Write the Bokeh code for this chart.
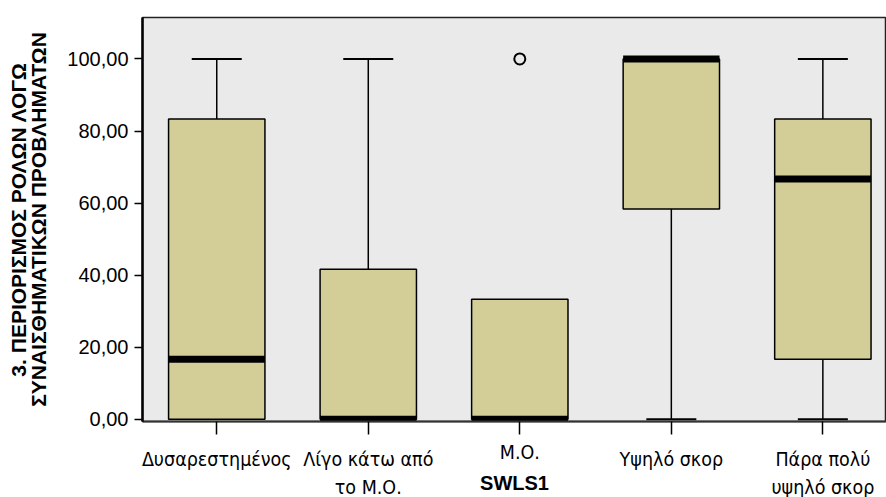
from bokeh.plotting import figure
from bokeh.models import FixedTicker, Range1d, ColumnDataSource, LinearAxis
from bokeh.embed import file_html
from bokeh.resources import INLINE

categories = ["Δυσαρεστημένος", "Λίγο κάτω από\nτο Μ.Ο.", "Μ.Ο.", "Υψηλό σκορ", "Πάρα πολύ\nυψηλό σκορ"]
positions = [1, 2, 3, 4, 5]
lower_whisker = [0.0, 0.0, 0.0, 0.0, 0.0]
q1 = [0.0, 0.0, 0.0, 58.33, 16.67]
median = [16.67, 0.0, 0.0, 100.0, 66.67]
q3 = [83.33, 41.67, 33.33, 100.0, 83.33]
upper_whisker = [100.0, 100.0, 33.33, 100.0, 100.0]
outlier_x = [3]
outlier_y = [100.0]
y_ticks = [0, 20, 40, 60, 80, 100]
y_tick_labels = ["0,00", "20,00", "40,00", "60,00", "80,00", "100,00"]
x_title = "SWLS1"
y_title = "3. ΠΕΡΙΟΡΙΣΜΟΣ ΡΟΛΩΝ ΛΟΓΩ\nΣΥΝΑΙΣΘΗΜΑΤΙΚΩΝ ΠΡΟΒΛΗΜΑΤΩΝ"

BOX_W = 0.636
CAP_W = 0.33
BOX_FILL = "#D3CE98"
BG = "#EAEAEA"
NARROW = "'DejaVu Sans Condensed', 'Roboto Condensed', Roboto, sans-serif"

p = figure(width=886, height=497, output_backend="svg", toolbar_location=None,
           x_range=Range1d(0.51, 5.42), y_range=Range1d(-0.6, 111.5),
           min_border_left=142, min_border_right=0, min_border_top=17, min_border_bottom=76)
p.background_fill_color = BG
p.border_fill_color = "white"
p.outline_line_color = "#222222"
p.outline_line_width = 1.5
p.grid.visible = False

stem_x, stem_y0, stem_y1 = [], [], []
cap_x0, cap_x1, cap_y = [], [], []
for x, lo, a, b, hi in zip(positions, lower_whisker, q1, q3, upper_whisker):
    if hi > b:
        stem_x.append(x); stem_y0.append(b); stem_y1.append(hi)
        cap_x0.append(x - CAP_W / 2); cap_x1.append(x + CAP_W / 2); cap_y.append(hi)
    if a > lo:
        stem_x.append(x); stem_y0.append(lo); stem_y1.append(a)
        cap_x0.append(x - CAP_W / 2); cap_x1.append(x + CAP_W / 2); cap_y.append(lo)

p.segment(x0=stem_x, y0=stem_y0, x1=stem_x, y1=stem_y1, line_color="black", line_width=1.5)
p.segment(x0=cap_x0, y0=cap_y, x1=cap_x1, y1=cap_y, line_color="black", line_width=2)

src = ColumnDataSource(dict(x=positions, q1=q1, q3=q3, med=median,
                            mx0=[x - BOX_W / 2 for x in positions],
                            mx1=[x + BOX_W / 2 for x in positions]))
p.vbar(x="x", bottom="q1", top="q3", width=BOX_W, source=src,
       fill_color=BOX_FILL, line_color="black", line_width=1.5)
p.segment(x0="mx0", y0="med", x1="mx1", y1="med", source=src,
          line_color="black", line_width=7, line_cap="butt")

p.scatter(outlier_x, outlier_y, marker="circle", size=11, fill_color=None,
          line_color="black", line_width=2)

p.yaxis.ticker = FixedTicker(ticks=y_ticks)
p.yaxis.major_label_overrides = dict(zip(y_ticks, y_tick_labels))
p.yaxis.major_label_text_font = "Liberation Sans"
p.yaxis.major_label_text_font_size = "20px"
p.yaxis.major_label_text_color = "black"
p.yaxis.major_tick_out = 8
p.yaxis.major_tick_in = 0
p.yaxis.minor_tick_out = 0
p.yaxis.minor_tick_in = 0
p.yaxis.major_tick_line_width = 1.5
p.yaxis.axis_line_width = 2.5
p.yaxis.axis_line_color = "black"
p.yaxis.major_label_standoff = 6
p.yaxis.axis_label = y_title
p.yaxis.axis_label_text_font = "Liberation Sans"
p.yaxis.axis_label_text_font_style = "bold"
p.yaxis.axis_label_text_font_size = "21px"
p.yaxis.axis_label_text_line_height = 0.88
p.yaxis.axis_label_text_color = "black"
p.yaxis.axis_label_standoff = 14

main_labels = {pos: (lab if pos != 3 else "") for pos, lab in zip(positions, categories)}
xa = p.xaxis[0]
xa.ticker = FixedTicker(ticks=positions)
xa.major_label_overrides = main_labels
xa.major_label_text_font = NARROW
xa.major_label_text_font_size = "19.5px"
xa.major_label_text_line_height = 1.25
xa.major_label_text_color = "black"
xa.major_tick_out = 13
xa.major_tick_in = 0
xa.minor_tick_out = 0
xa.minor_tick_in = 0
xa.major_tick_line_width = 1.5
xa.axis_line_width = 2
xa.axis_line_color = "#333333"
xa.major_label_standoff = 13
xa.axis_label = x_title
xa.axis_label_text_font = "Liberation Sans"
xa.axis_label_text_font_style = "bold"
xa.axis_label_text_font_size = "20px"
xa.axis_label_text_color = "black"
xa.axis_label_standoff = -30

mid = LinearAxis(ticker=FixedTicker(ticks=[positions[2]]),
                 major_label_overrides={positions[2]: categories[2]})
mid.major_label_text_font = NARROW
mid.major_label_text_font_size = "19.5px"
mid.major_label_text_color = "black"
mid.axis_line_color = None
mid.major_tick_line_color = None
mid.minor_tick_line_color = None
mid.major_tick_out = 0
mid.major_tick_in = 0
mid.minor_tick_out = 0
mid.minor_tick_in = 0
mid.major_label_standoff = -57
p.add_layout(mid, "below")

open("out.html", "w").write(file_html(p, INLINE))
